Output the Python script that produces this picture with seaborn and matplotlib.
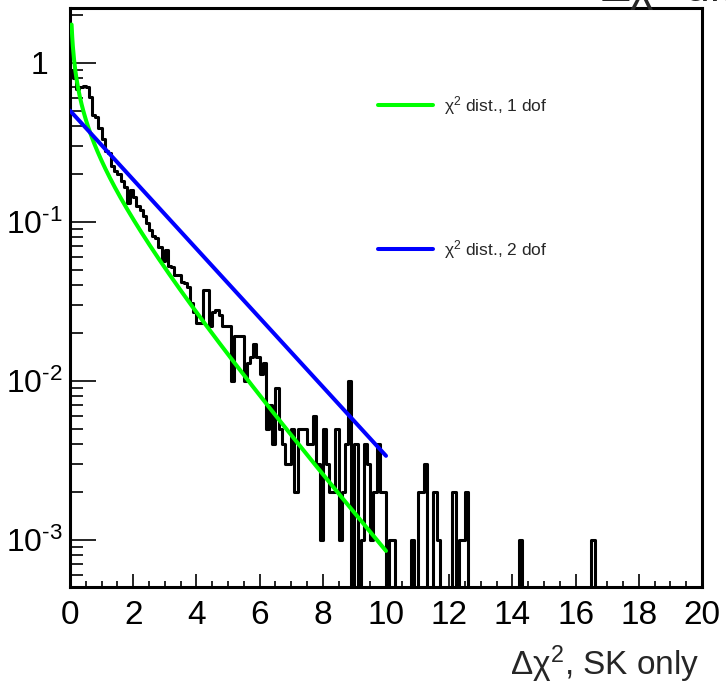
import math
import numpy as np
import pandas as pd
import matplotlib
matplotlib.use("Agg")
import matplotlib.pyplot as plt
import matplotlib.transforms as mtransforms
from matplotlib.ticker import MultipleLocator, LogLocator, FixedLocator, FixedFormatter, NullFormatter
import seaborn as sns

# ---------------- data ----------------
bin_width = 0.1
x_lo, x_hi = 0.0, 20.0
density_per_entry = 1.0e-3  # histogram normalisation (1 / (N * bin width))

counts_0_10 = [
    900, 800, 680, 700, 710, 700, 610, 470, 455, 390,
    330, 280, 270, 225, 210, 200, 180, 165, 132, 158,
    143, 125, 118, 108, 98, 89, 81, 79, 69, 57,
    66, 53, 52, 46, 46, 42, 41, 39, 31, 27,
    23, 23, 37, 37, 22, 27, 28, 26, 22, 22,
    22, 10, 19, 19, 19, 10, 13, 14, 17, 14,
    11, 13, 5, 7, 4, 9, 5, 4, 3, 3,
    5, 2, 5, 5, 5, 4, 4, 6, 3, 1,
    5, 3, 2, 2, 5, 1, 2, 4, 10, 0,
    4, 0, 1, 4, 3, 1, 2, 4, 2, 2,
]
tail_bins = [101, 102, 108, 110, 111, 112, 115, 116, 121, 123, 124, 125, 142, 165]
tail_counts = [1, 1, 1, 2, 2, 3, 2, 1, 2, 1, 1, 2, 1, 1]

curve_dofs = [1, 2]
curve_labels = [r"χ$^{2}$ dist., 1 dof", r"χ$^{2}$ dist., 2 dof"]
curve_colors = ["#00ff00", "#0000ff"]
curve_starts = [0.05, 0.0]
curve_end = 10.0

x_ticks = [0, 2, 4, 6, 8, 10, 12, 14, 16, 18, 20]
y_ticks = [1e-3, 1e-2, 1e-1, 1.0]
y_tick_labels = [r"$10^{\text{-}3}$", r"$10^{\text{-}2}$", r"$10^{\text{-}1}$", r"$1$"]
y_lo, y_hi = 5.04e-4, 2.21

x_title = r"Δχ$^{2}$, SK only"
top_title = r"Δχ$^{2}$ distribution"

# ---------------- style ----------------
sns.set_theme(style="ticks")
fam = ["Liberation Sans", "DejaVu Sans"]
plt.rcParams["font.family"] = fam
plt.rcParams["mathtext.fontset"] = "custom"
plt.rcParams["mathtext.rm"] = "Liberation Sans"
plt.rcParams["mathtext.it"] = "Liberation Sans"
plt.rcParams["mathtext.bf"] = "Liberation Sans"
plt.rcParams["mathtext.default"] = "rm"

fig = plt.figure(figsize=(7.26, 6.87), dpi=100)
ax = fig.add_axes([70 / 726, 100 / 687, 632 / 726, 579 / 687])
ax.set_facecolor("white")

# histogram
n_bins = int(round((x_hi - x_lo) / bin_width))
edges = x_lo + np.arange(n_bins + 1) * bin_width
counts = np.zeros(n_bins)
counts[: len(counts_0_10)] = counts_0_10
counts[tail_bins] = tail_counts
dens = counts * density_per_entry
dens_plot = np.where(dens > 0, dens, 1e-9)
hist_df = pd.DataFrame({"x": edges[:-1] + bin_width / 2, "w": dens_plot})
sns.histplot(data=hist_df, x="x", weights="w", binwidth=bin_width,
             binrange=(x_lo, x_hi), element="step", fill=False,
             color="black", linewidth=2.2, ax=ax, zorder=2)


def chi2_pdf(x, k):
    return x ** (k / 2 - 1) * np.exp(-x / 2) / (2 ** (k / 2) * math.gamma(k / 2))


for k, lab, col, x0 in zip(curve_dofs, curve_labels, curve_colors, curve_starts):
    xs = np.linspace(x0, curve_end, 500)
    sns.lineplot(x=xs, y=chi2_pdf(xs, k), color=col, linewidth=2.9, label=lab,
                 ax=ax, zorder=3)

ax.set_yscale("log")
ax.set_xlim(x_lo, x_hi)
ax.set_ylim(y_lo, y_hi)
ax.set_xlabel("")
ax.set_ylabel("")

# ticks
ax.xaxis.set_major_locator(FixedLocator(x_ticks))
ax.xaxis.set_minor_locator(MultipleLocator(0.5))
ax.set_xticklabels([str(t) for t in x_ticks])
ax.yaxis.set_major_locator(FixedLocator(y_ticks))
ax.yaxis.set_major_formatter(FixedFormatter(y_tick_labels))
ax.yaxis.set_minor_locator(LogLocator(base=10, subs=np.arange(2, 10)))
ax.yaxis.set_minor_formatter(NullFormatter())
ax.tick_params(axis="both", which="both", direction="in", top=False, right=False,
               width=1.2, color="black", labelsize=24, labelcolor="black")
ax.tick_params(axis="y", which="major", length=19, pad=5, labelsize=23)
ax.tick_params(axis="y", which="minor", length=9.5)
ax.tick_params(axis="x", which="major", length=9.5, pad=9)
ax.tick_params(axis="x", which="minor", length=4.5)
for sp in ax.spines.values():
    sp.set_visible(True)
    sp.set_linewidth(2.2)
    sp.set_color("black")

fig.canvas.draw()
for lab in ax.get_yticklabels():
    if lab.get_text() in ("$1$", "1"):
        lab.set_transform(lab.get_transform() +
                          mtransforms.ScaledTranslation(-0.15, 0, fig.dpi_scale_trans))

# legend
ax.legend(loc="upper left", bbox_to_anchor=(0.487, 0.852), frameon=False,
          fontsize=12.5, handlelength=3.2, handletextpad=0.6, labelspacing=7.0,
          borderpad=0, borderaxespad=0)

# texts
fig.text(700 / 726, 12 / 687, x_title, ha="right", va="baseline", fontsize=24)
fig.text(600 / 726, 1 - 3 / 687, top_title, ha="left", va="baseline", fontsize=32)

fig.savefig("out.png", dpi=100, facecolor="white")
